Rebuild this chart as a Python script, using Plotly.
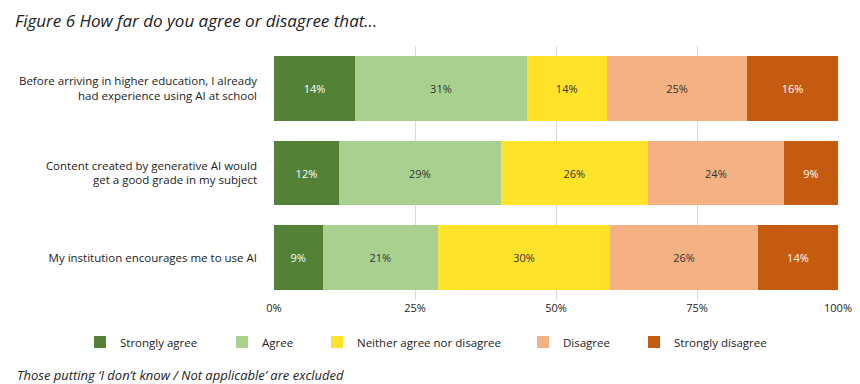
import plotly.graph_objects as go

categories = [
    "Before arriving in higher education, I already<br>had experience using AI at school",
    "Content created by generative AI would<br>get a good grade in my subject",
    "My institution encourages me to use AI",
]
series_names = ["Strongly agree", "Agree", "Neither agree nor disagree", "Disagree", "Strongly disagree"]
strongly_agree = [14.4, 11.5, 8.6]
agree = [30.4, 28.7, 20.5]
neither = [14.2, 26.1, 30.5]
disagree = [24.9, 24.1, 26.2]
strongly_disagree = [16.1, 9.6, 14.2]
labels_sa = ["14%", "12%", "9%"]
labels_a = ["31%", "29%", "21%"]
labels_n = ["14%", "26%", "30%"]
labels_d = ["25%", "24%", "26%"]
labels_sd = ["16%", "9%", "14%"]
tick_vals = [0, 25, 50, 75, 100]
tick_text = ["0%", "25%", "50%", "75%", "100%"]

series_values = [strongly_agree, agree, neither, disagree, strongly_disagree]
series_labels = [labels_sa, labels_a, labels_n, labels_d, labels_sd]
colors = ["#538135", "#A9D08E", "#FFE32B", "#F4B183", "#C55A11"]
text_colors = ["#FFFFFF", "#333333", "#333333", "#333333", "#FFFFFF"]
legend_text_x = [120, 262, 357, 563, 674]  # px, left edge of each legend label

FONT = "Open Sans"
W, H = 860, 384
ML, MR, MT, MB = 274, 22, 46, 84
PW, PH = W - ML - MR, H - MT - MB

fig = go.Figure()
legend_ids = ["legend", "legend2", "legend3", "legend4", "legend5"]
for i, (name, vals, labs, col, tcol) in enumerate(zip(series_names, series_values, series_labels, colors, text_colors)):
    fig.add_trace(go.Bar(
        y=categories, x=vals, orientation="h", name=name,
        marker=dict(color=col, line=dict(width=0)),
        text=labs, textposition="inside", insidetextanchor="middle",
        textangle=0, constraintext="none",
        textfont=dict(color=tcol, size=11, family=FONT),
        hoverinfo="skip", legend=legend_ids[i],
    ))

legend_common = dict(
    orientation="h", xref="container", yref="container",
    xanchor="left", y=1 - 342 / H, yanchor="middle",
    font=dict(size=11.5, family=FONT, color="#222222"),
    bgcolor="rgba(0,0,0,0)", borderwidth=0, itemwidth=30,
)
legend_layouts = {}
for lid, tx in zip(legend_ids, legend_text_x):
    legend_layouts[lid] = dict(legend_common, x=(tx - 40) / W)

fig.update_layout(
    barmode="stack",
    bargap=0.235,
    width=W, height=H,
    margin=dict(l=ML, r=MR, t=MT, b=MB, autoexpand=False),
    paper_bgcolor="white", plot_bgcolor="white",
    font=dict(family=FONT, size=11, color="#222222"),
    title=dict(
        text="<i>Figure 6 How far do you agree or disagree that...</i>",
        x=15 / W, xanchor="left", xref="container",
        y=1 - 21 / H, yanchor="middle", yref="container",
        font=dict(size=17, family=FONT, color="#222222"),
    ),
    showlegend=True,
    xaxis=dict(
        range=[0, 100], tickvals=tick_vals, ticktext=tick_text,
        showgrid=True, gridcolor="#D9D9D9", gridwidth=1,
        zeroline=False, showline=False, ticks="",
        tickfont=dict(size=11, family=FONT, color="#222222"),
        fixedrange=True, automargin=False,
    ),
    yaxis=dict(
        autorange="reversed", showgrid=False, ticks="",
        ticklabelstandoff=16,
        tickfont=dict(size=11.5, family=FONT, color="#222222"),
        fixedrange=True, automargin=False,
    ),
    annotations=[dict(
        text="<i>Those putting \u2018I don\u2019t know / Not applicable\u2019 are excluded</i>",
        xref="paper", yref="paper",
        x=(15 - ML) / PW, y=(H - MB - 375) / PH,
        xanchor="left", yanchor="middle", showarrow=False,
        font=dict(size=13, family=FONT, color="#222222"),
    )],
    **legend_layouts,
)

fig.write_html(
    "out.html",
    config={"displayModeBar": False},
    post_script="document.body.style.margin='0';document.body.style.overflow='hidden';",
)
